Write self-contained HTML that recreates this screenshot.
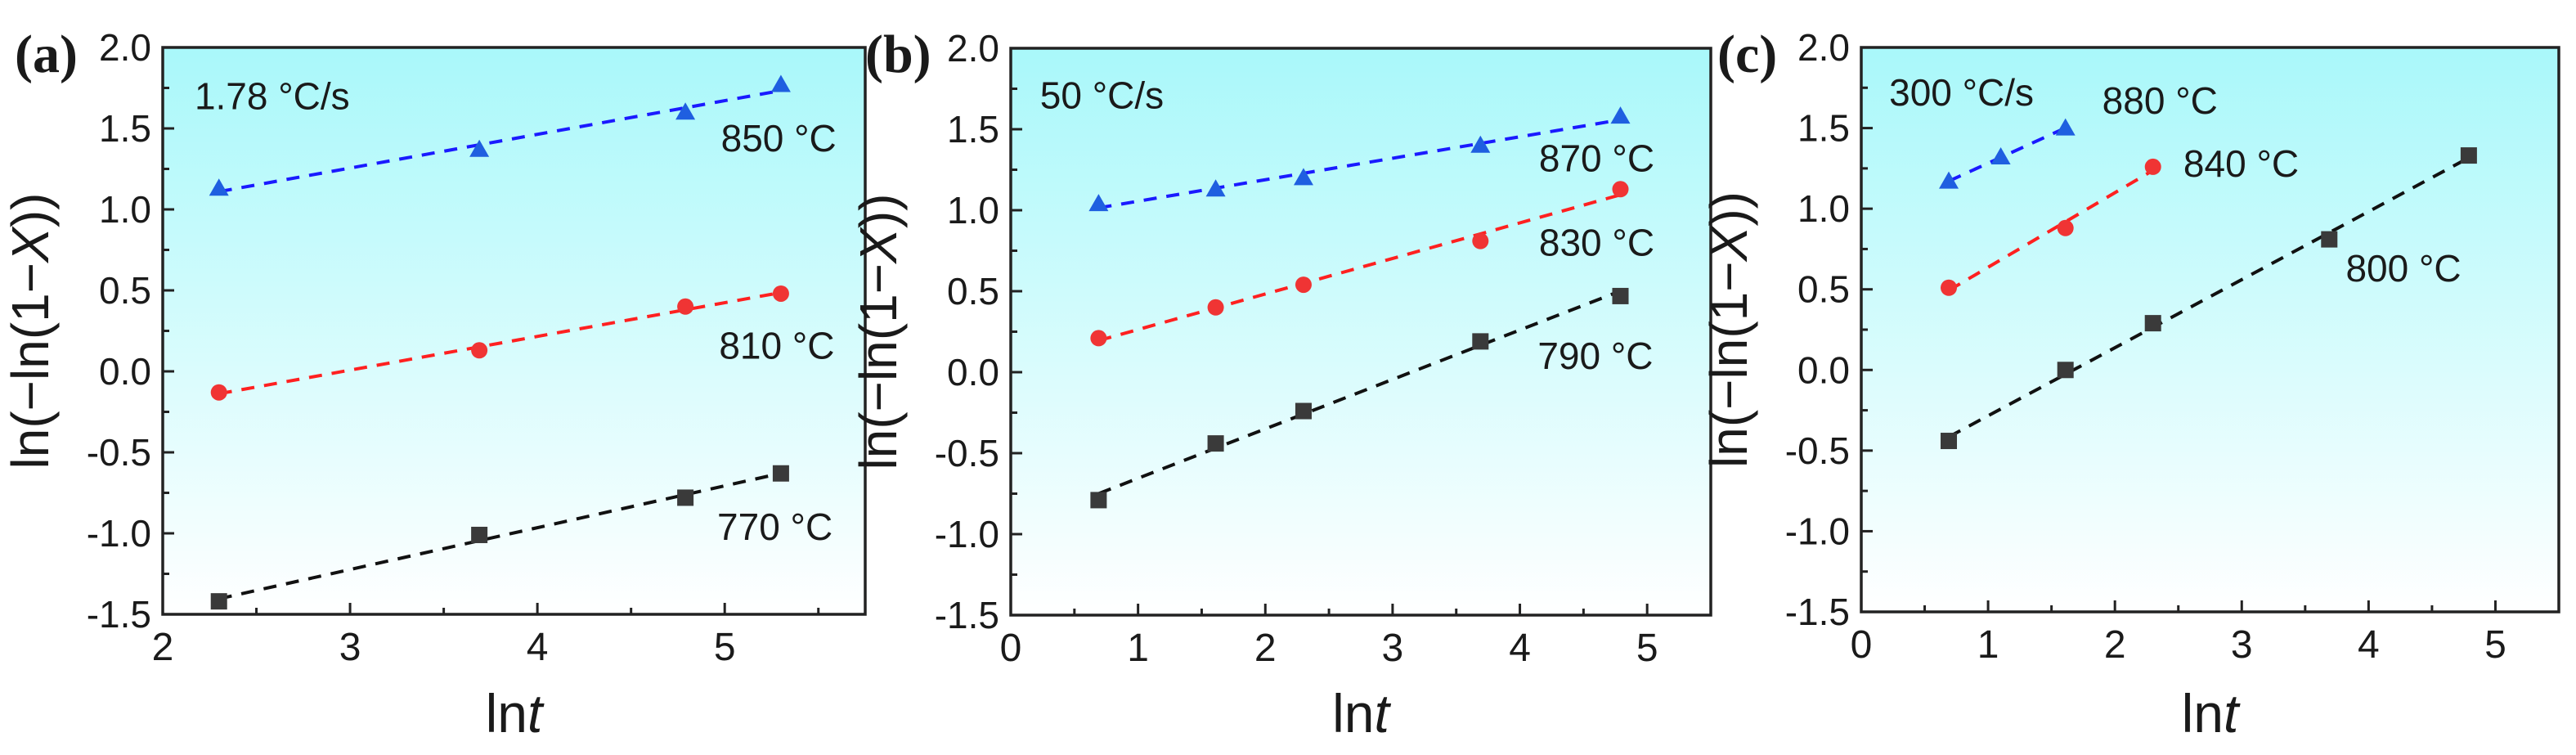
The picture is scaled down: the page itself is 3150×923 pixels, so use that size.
<!DOCTYPE html>
<html><head><meta charset="utf-8">
<style>
html,body{margin:0;padding:0;background:#fff;}
svg{display:block;}
text{font-family:"Liberation Sans",Arial,sans-serif;fill:#1a1a1a;}
</style></head>
<body>
<svg id="fig" width="3150" height="923" viewBox="0 0 3150 923" xmlns="http://www.w3.org/2000/svg">
<defs>
<linearGradient id="bg" x1="0" y1="0" x2="0" y2="1">
<stop offset="0" stop-color="#a9f8fa"/>
<stop offset="1" stop-color="#ffffff"/>
</linearGradient>
</defs>
</svg>
<script>
// Panel (a) data
const aX = [2.30, 3.69, 4.79, 5.30];
const a850 = [1.13, 1.37, 1.60, 1.77];
const a810 = [-0.13, 0.13, 0.40, 0.48];
const a770 = [-1.42, -1.01, -0.78, -0.63];
// Panel (b) data
const bX = [0.69, 1.61, 2.30, 3.69, 4.79];
const b870 = [1.04, 1.13, 1.20, 1.40, 1.58];
const b830 = [0.21, 0.40, 0.54, 0.81, 1.13];
const b790 = [-0.79, -0.44, -0.24, 0.19, 0.47];
// Panel (c) data
const cX880 = [0.69, 1.10, 1.61];
const c880 = [1.17, 1.32, 1.50];
const cX840 = [0.69, 1.61, 2.30];
const c840 = [0.51, 0.88, 1.26];
const cX800 = [0.69, 1.61, 2.30, 3.69, 4.79];
const c800 = [-0.44, 0.00, 0.29, 0.81, 1.33];
// Tick labels
const yTicks = [-1.5, -1.0, -0.5, 0.0, 0.5, 1.0, 1.5, 2.0];
const xTicksA = [2, 3, 4, 5];
const xTicksBC = [0, 1, 2, 3, 4, 5];

const NS = "http://www.w3.org/2000/svg";
const svg = document.getElementById('fig');
function mk(tag, attrs, parent){
  const e = document.createElementNS(NS, tag);
  for (const k in attrs) e.setAttribute(k, attrs[k]);
  (parent || svg).appendChild(e);
  return e;
}
function fit(xs, ys){
  const n = xs.length; let sx=0, sy=0, sxx=0, sxy=0;
  for (let i=0;i<n;i++){sx+=xs[i];sy+=ys[i];sxx+=xs[i]*xs[i];sxy+=xs[i]*ys[i];}
  const m = (n*sxy - sx*sy)/(n*sxx - sx*sx);
  return [m, (sy - m*sx)/n];
}
const COL = {blue:'#1f5fe0', red:'#f03434', black:'#3a3a3a'};
const LINE = {blue:'#1a1aff', red:'#ff2020', black:'#111'};

function panel(p){
  const g = mk('g', {});
  
  
  const X = v => p.L + (v - p.x0) / (p.x1 - p.x0) * (p.R - p.L);
  const Y = v => p.B - (v - p.y0) / (p.y1 - p.y0) * (p.B - p.T);
  const bg = mk('rect', {x:p.L, y:p.T, width:p.R-p.L, height:p.B-p.T, fill:'url(#bg)'}, g);
  
  
  // y ticks
  yTicks.forEach((t, i) => {
    mk('line', {x1:p.L, x2:p.L+14, y1:Y(t), y2:Y(t), stroke:'#222', 'stroke-width':3}, g);
    if (i < yTicks.length-1) {
      const m = t + 0.25;
      mk('line', {x1:p.L, x2:p.L+8, y1:Y(m), y2:Y(m), stroke:'#222', 'stroke-width':3}, g);
    }
    const tx = mk('text', {x:p.L-14, y:Y(t)+16, 'font-size':46, 'text-anchor':'end'}, g);
    tx.textContent = t.toFixed(1);
    
    
  });
  // x ticks
  p.xt.forEach(t => {
    mk('line', {x1:X(t), x2:X(t), y1:p.B, y2:p.B-14, stroke:'#222', 'stroke-width':3}, g);
    const m = t + 0.5;
    if (m < p.x1) mk('line', {x1:X(m), x2:X(m), y1:p.B, y2:p.B-8, stroke:'#222', 'stroke-width':3}, g);
    const tx = mk('text', {x:X(t), y:p.B+56, 'font-size':48, 'text-anchor':'middle'}, g);
    tx.textContent = String(t);
    
    
  });
  const fr = mk('rect', {x:p.L, y:p.T, width:p.R-p.L, height:p.B-p.T, fill:'none', stroke:'#222', 'stroke-width':3.5}, g);
  
  
  // series
  p.series.forEach(s => {
    const [m, b] = fit(s.x, s.y);
    const xa = s.x[0], xb = s.x[s.x.length-1];
    const ln = mk('line', {x1:X(xa), y1:Y(m*xa+b), x2:X(xb), y2:Y(m*xb+b), stroke:LINE[s.c], 'stroke-width':4, 'stroke-dasharray':'16 12'}, g);
    
    
    s.x.forEach((xv, i) => {
      const cx = X(xv), cy = Y(s.y[i]);
      let el;
      if (s.m === 'tri') el = mk('polygon', {points:`${cx},${cy-12} ${cx-12},${cy+9} ${cx+12},${cy+9}`, fill:COL[s.c]}, g);
      else if (s.m === 'cir') el = mk('circle', {cx:cx, cy:cy, r:10, fill:COL[s.c]}, g);
      else el = mk('rect', {x:cx-10, y:cy-10, width:20, height:20, fill:COL[s.c]}, g);
      
      
    });
  });
  // annotations
  p.notes.forEach(n => {
    const t = mk('text', {x:X(n[1]), y:Y(n[2])+16, 'font-size':46}, g);
    t.textContent = n[0];
    
    
  });
  // panel label
  const pl = mk('text', {x:p.labX, y:88, 'font-size':66, 'font-weight':'bold', style:'font-family:"Liberation Serif",serif'}, g);
  pl.textContent = '(' + p.id + ')';
  
  
  // axis titles
  const yt = mk('text', {x:0, y:0, 'font-size':64, 'text-anchor':'middle', transform:`translate(${p.L-140},${(p.T+p.B)/2}) rotate(-90)`}, g);
  yt.innerHTML = 'ln(−ln(1−<tspan font-style="italic">X</tspan>))';
  
  
  const xt = mk('text', {x:(p.L+p.R)/2, y:895, 'font-size':66, 'text-anchor':'middle'}, g);
  xt.innerHTML = 'ln<tspan font-style="italic">t</tspan>';
  
  
}

panel({id:'a', L:199, R:1058, T:58, B:751, x0:2, x1:5.75, y0:-1.5, y1:2, xt:xTicksA, labX:18,
  series:[{name:'850C', x:aX, y:a850, c:'blue', m:'tri'},
          {name:'810C', x:aX, y:a810, c:'red', m:'cir'},
          {name:'770C', x:aX, y:a770, c:'black', m:'sq'}],
  notes:[['1.78 °C/s', 2.17, 1.70], ['850 °C', 4.98, 1.44], ['810 °C', 4.97, 0.16], ['770 °C', 4.96, -0.96]]});
panel({id:'b', L:1236, R:2092, T:59, B:752, x0:0, x1:5.5, y0:-1.5, y1:2, xt:xTicksBC, labX:1058,
  series:[{name:'870C', x:bX, y:b870, c:'blue', m:'tri'},
          {name:'830C', x:bX, y:b830, c:'red', m:'cir'},
          {name:'790C', x:bX, y:b790, c:'black', m:'sq'}],
  notes:[['50 °C/s', 0.23, 1.71], ['870 °C', 4.15, 1.32], ['830 °C', 4.15, 0.80], ['790 °C', 4.14, 0.10]]});
panel({id:'c', L:2276, R:3129, T:58, B:748, x0:0, x1:5.5, y0:-1.5, y1:2, xt:xTicksBC, labX:2100,
  series:[{name:'880C', x:cX880, y:c880, c:'blue', m:'tri'},
          {name:'840C', x:cX840, y:c840, c:'red', m:'cir'},
          {name:'800C', x:cX800, y:c800, c:'black', m:'sq'}],
  notes:[['300 °C/s', 0.22, 1.72], ['880 °C', 1.90, 1.67], ['840 °C', 2.54, 1.28], ['800 °C', 3.82, 0.63]]});
</script>
</body></html>
